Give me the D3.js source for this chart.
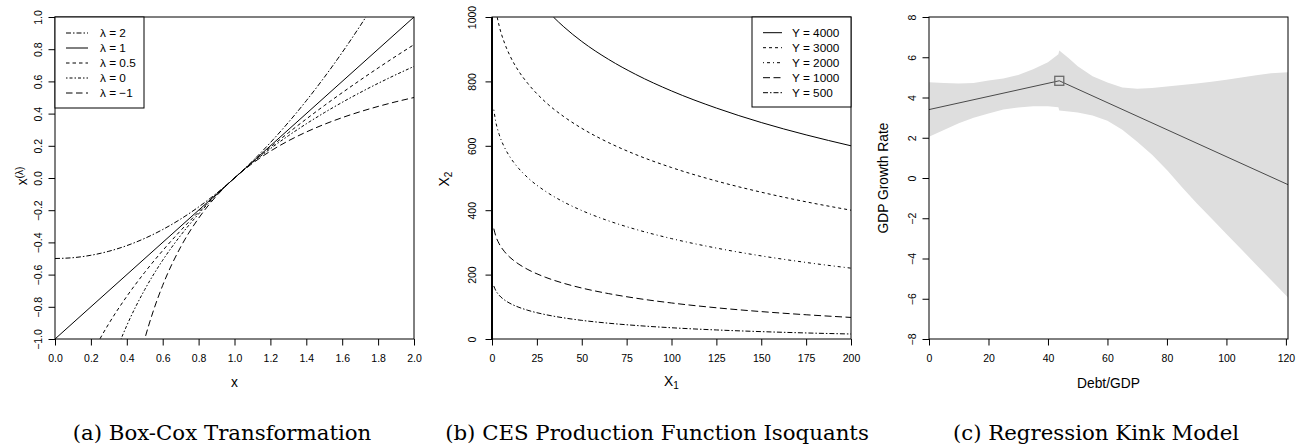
<!DOCTYPE html>
<html><head><meta charset="utf-8">
<script src="https://cdn.jsdelivr.net/npm/d3@7"></script>
<style>
body{margin:0;background:#fff;}
svg text{font-family:"Liberation Sans",Arial,sans-serif;fill:#000;}
</style></head><body>
<svg id="c" width="1301" height="446"></svg>
<script>
// ---------- Panel (a): Box-Cox transformation ----------
const bcLabels = ["λ = 2", "λ = 1", "λ = 0.5", "λ = 0", "λ = −1"];
const lam2X = [0,0.1,0.2,0.3,0.4,0.5,0.6,0.7,0.8,0.9,1.0,1.1,1.2,1.3,1.4,1.5,1.6,1.7,1.8];
const lam2Y = [-0.5,-0.495,-0.48,-0.455,-0.42,-0.375,-0.32,-0.255,-0.18,-0.095,0,0.105,0.22,0.345,0.48,0.625,0.78,0.945,1.12];
const lam1X = [0,1,2];
const lam1Y = [-1,0,1];
const lam05X = [0.2,0.25,0.3,0.4,0.5,0.6,0.7,0.8,0.9,1.0,1.1,1.2,1.3,1.4,1.5,1.6,1.7,1.8,1.9,2.0];
const lam05Y = [-1.1056,-1,-0.9046,-0.7351,-0.5858,-0.4508,-0.3267,-0.2111,-0.1026,0,0.0976,0.1909,0.2804,0.3664,0.4495,0.5298,0.6077,0.6833,0.7569,0.8284];
const lam0X = [0.3,0.35,0.4,0.5,0.6,0.7,0.8,0.9,1.0,1.1,1.2,1.3,1.4,1.5,1.6,1.7,1.8,1.9,2.0];
const lam0Y = [-1.204,-1.0498,-0.9163,-0.6931,-0.5108,-0.3567,-0.2231,-0.1054,0,0.0953,0.1823,0.2624,0.3365,0.4055,0.47,0.5306,0.5878,0.6419,0.6931];
const lamM1X = [0.45,0.5,0.55,0.6,0.7,0.8,0.9,1.0,1.1,1.2,1.3,1.4,1.5,1.6,1.7,1.8,1.9,2.0];
const lamM1Y = [-1.2222,-1,-0.8182,-0.6667,-0.4286,-0.25,-0.1111,0,0.0909,0.1667,0.2308,0.2857,0.3333,0.375,0.4118,0.4444,0.4737,0.5];
const bcXTicks = [0,0.2,0.4,0.6,0.8,1.0,1.2,1.4,1.6,1.8,2.0];
const bcYTicks = [-1.0,-0.8,-0.6,-0.4,-0.2,0,0.2,0.4,0.6,0.8,1.0];

// ---------- Panel (b): CES isoquants ----------
const cesLabels = ["Y = 4000", "Y = 3000", "Y = 2000", "Y = 1000", "Y = 500"];
const ces4000X = [30,34.2,40,50,65,80,100,125,150,175,200];
const ces4000Y = [1025,1000,969.5,924.1,868.2,821.9,770.4,717.2,672.3,633.9,600];
const cesX = [1,2,4,7,10,15,20,30,40,50,65,80,100,125,150,175,200];
const ces3000Y = [1073,1028,972.6,918.8,879.8,830.7,793.3,734.8,690.6,654.3,609.7,573.0,532.5,490.7,455.9,426.0,400];
const ces2000Y = [712.1,677.5,635.3,594.6,565.4,528.8,500.6,457.9,425.4,399.0,366.8,340.6,311.8,282.4,258.1,237.7,220];
const ces1000Y = [342.8,321.6,295.7,271.1,253.6,232.1,215.7,191.2,172.9,158.3,140.9,126.9,111.9,97.0,85.1,75.3,67];
const ces500Y  = [164.6,151.5,135.8,121.1,110.8,98.4,89.1,75.5,65.6,57.9,49.0,42.1,34.9,28.1,22.9,18.8,15.5];
const cesXTicks = [0,25,50,75,100,125,150,175,200];
const cesYTicks = [0,200,400,600,800,1000];

// ---------- Panel (c): Regression kink model ----------
const bandX = [0,5,10,15,20,25,30,35,40,43.5,43.8,47,50,55,60,65,70,75,80,85,90,95,100,105,110,115,120.7];
const bandUpper = [4.76,4.72,4.70,4.72,4.85,4.95,5.12,5.40,5.75,6.15,6.33,5.95,5.55,5.05,4.75,4.5,4.43,4.47,4.55,4.62,4.7,4.78,4.88,5.0,5.1,5.2,5.25];
const bandLower = [2.05,2.38,2.72,3.0,3.2,3.4,3.5,3.57,3.56,3.52,3.35,3.3,3.25,3.1,2.85,2.4,1.8,1.15,0.4,-0.45,-1.25,-2.01,-2.78,-3.54,-4.31,-5.07,-5.94];
const kinkX = [0,43.8,120.7];
const kinkY = [3.4,4.83,-0.33];
const kinkPoint = [43.8,4.83];
const rkXTicks = [0,20,40,60,80,100,120];
const rkYTicks = [-8,-6,-4,-2,0,2,4,6,8];

const captions = ["(a) Box-Cox Transformation","(b) CES Production Function Isoquants","(c) Regression Kink Model"];

// ---------- drawing ----------
const svg = d3.select("#c");
const TOP = 17, BOT = 339;
const TICKFONT = 10.5, TITLEFONT = 13.8, LEGFONT = 11.8;

function makePanel(id, left, right, xDom, yDom) {
  const x = d3.scaleLinear().domain(xDom).range([left, right]);
  const y = d3.scaleLinear().domain(yDom).range([BOT, TOP]);
  svg.append("clipPath").attr("id", id).append("rect")
    .attr("x", left).attr("y", TOP).attr("width", right-left).attr("height", BOT-TOP);
  const g = svg.append("g");
  return {x, y, g, left, right, clip: `url(#${id})`};
}

function drawAxes(p, xTicks, yTicks, xFmt, yFmt, yOff) {
  const ax = p.g.append("g").attr("transform", `translate(0,${BOT})`)
    .call(d3.axisBottom(p.x).tickValues(xTicks).tickFormat(xFmt).tickSize(6.5).tickSizeOuter(0).tickPadding(9.5));
  ax.select(".domain").remove();
  ax.attr("font-family", "Liberation Sans").attr("font-size", TICKFONT);
  ax.selectAll(".tick line").attr("stroke", "#000");
  const ay = p.g.append("g").attr("transform", `translate(${p.left},0)`)
    .call(d3.axisLeft(p.y).tickValues(yTicks).tickFormat(yFmt).tickSize(6.5).tickSizeOuter(0));
  ay.select(".domain").remove();
  ay.attr("font-family", "Liberation Sans").attr("font-size", TICKFONT);
  ay.selectAll(".tick line").attr("stroke", "#000");
  ay.selectAll(".tick text").attr("x", null).attr("dy", null)
    .attr("text-anchor", "middle").attr("dominant-baseline", "central")
    .attr("transform", `translate(${-yOff},0) rotate(-90)`);
}

function drawBox(p) {
  p.g.append("rect").attr("x", p.left).attr("y", TOP)
    .attr("width", p.right - p.left).attr("height", BOT - TOP)
    .attr("fill", "none").attr("stroke", "#000").attr("stroke-width", 1);
}

function series(p, xs, ys, dash, color, curve) {
  const line = d3.line().x(d => p.x(d[0])).y(d => p.y(d[1])).curve(curve || d3.curveMonotoneX);
  p.g.append("path").datum(xs.map((v,i) => [v, ys[i]]))
    .attr("d", line).attr("fill", "none").attr("stroke", color || "#000")
    .attr("stroke-width", 1).attr("stroke-dasharray", dash).attr("clip-path", p.clip);
}

function legend(p, x0, xs, yTop, rows, labels, dashes, boxW, boxH) {
  p.g.append("rect").attr("x", x0).attr("y", yTop).attr("width", boxW).attr("height", boxH)
    .attr("fill", "#fff").attr("stroke", "#000").attr("stroke-width", 1);
  labels.forEach((lab, i) => {
    const yy = rows[i];
    p.g.append("line").attr("x1", xs.l1).attr("x2", xs.l2).attr("y1", yy).attr("y2", yy)
      .attr("stroke", "#000").attr("stroke-width", 1).attr("stroke-dasharray", dashes[i]);
    p.g.append("text").attr("x", xs.t).attr("y", yy + 4.1).attr("font-size", LEGFONT).text(lab);
  });
}

// Panel a
const pa = makePanel("ca", 55, 414, [0, 2], [-1, 1]);
const bcDash = ["5,2,1.5,2", null, "3.5,3", "1.5,2,3,2", "6.5,3.5"];
series(pa, lam2X, lam2Y, bcDash[0]);
series(pa, lam1X, lam1Y, bcDash[1], "#000", d3.curveLinear);
series(pa, lam05X, lam05Y, bcDash[2]);
series(pa, lam0X, lam0Y, bcDash[3]);
series(pa, lamM1X, lamM1Y, bcDash[4]);
drawAxes(pa, bcXTicks, bcYTicks, d3.format(".1f"), d3.format(".1f"), 17);
drawBox(pa);
legend(pa, 55, {l1: 66, l2: 88, t: 100}, 17, [33, 48, 63, 78, 93], bcLabels, bcDash, 89, 91);
pa.g.append("text").attr("x", 234.5).attr("y", 386.8).attr("text-anchor", "middle")
  .attr("font-size", TITLEFONT).text("x");
const ta = pa.g.append("text").attr("transform", "translate(27.3,176) rotate(-90)")
  .attr("text-anchor", "middle").attr("font-size", TITLEFONT);
ta.append("tspan").text("x");
ta.append("tspan").attr("baseline-shift", "38%").attr("font-size", 10).text("(λ)");

// Panel b
const pb = makePanel("cb", 492, 851, [0, 200], [0, 1000]);
const cesDash = [null, "3,3", "1,3,3,3", "7,3.5", "5,2,1.5,2"];
series(pb, ces4000X, ces4000Y, cesDash[0]);
series(pb, cesX, ces3000Y, cesDash[1]);
series(pb, cesX, ces2000Y, cesDash[2]);
series(pb, cesX, ces1000Y, cesDash[3]);
series(pb, cesX, ces500Y, cesDash[4]);
drawAxes(pb, cesXTicks, cesYTicks, d3.format("d"), d3.format("d"), 20);
drawBox(pb);
pb.g.append("line").attr("x1", 492).attr("x2", 492).attr("y1", TOP).attr("y2", BOT)
  .attr("stroke", "#000").attr("stroke-width", 2);
legend(pb, 752, {l1: 763, l2: 782, t: 792}, 17, [32.7, 47.7, 62.7, 77.7, 92.7], cesLabels, cesDash, 99, 90);
const tb1 = pb.g.append("text").attr("x", 671.5).attr("y", 385.5).attr("text-anchor", "middle")
  .attr("font-size", TITLEFONT);
tb1.append("tspan").text("X");
tb1.append("tspan").attr("baseline-shift", "-25%").attr("font-size", 10).text("1");
const tb2 = pb.g.append("text").attr("transform", "translate(449,179) rotate(-90)")
  .attr("text-anchor", "middle").attr("font-size", TITLEFONT);
tb2.append("tspan").text("X");
tb2.append("tspan").attr("baseline-shift", "-25%").attr("font-size", 10).text("2");

// Panel c
const pc = makePanel("cc", 929, 1288, [0, 120.7], [-8, 8]);
const area = d3.area().x(d => pc.x(d[0])).y0(d => pc.y(d[1])).y1(d => pc.y(d[2]));
pc.g.append("path").datum(bandX.map((v,i) => [v, bandLower[i], bandUpper[i]]))
  .attr("d", area).attr("fill", "#dedede").attr("stroke", "none").attr("clip-path", pc.clip);
series(pc, kinkX, kinkY, null, "#4a4a4a", d3.curveLinear);
pc.g.append("rect").attr("x", pc.x(kinkPoint[0]) - 4.5).attr("y", pc.y(kinkPoint[1]) - 4.5)
  .attr("width", 9).attr("height", 9).attr("fill", "none").attr("stroke", "#6a6a6a").attr("stroke-width", 1.3);
drawAxes(pc, rkXTicks, rkYTicks, d3.format("d"), d3.format("d"), 17.3);
drawBox(pc);
pc.g.append("text").attr("x", 1108.5).attr("y", 387.5).attr("text-anchor", "middle")
  .attr("font-size", TITLEFONT).text("Debt/GDP");
pc.g.append("text").attr("transform", "translate(888.3,178) rotate(-90)")
  .attr("text-anchor", "middle").attr("font-size", TITLEFONT).text("GDP Growth Rate");

// Captions
const capX = [222, 657, 1096];
captions.forEach((c, i) => {
  svg.append("text").attr("x", capX[i]).attr("y", 440).attr("text-anchor", "middle")
    .style("font-family", "'DejaVu Serif', serif").attr("font-size", 21.3).text(c);
});
</script>
</body></html>
